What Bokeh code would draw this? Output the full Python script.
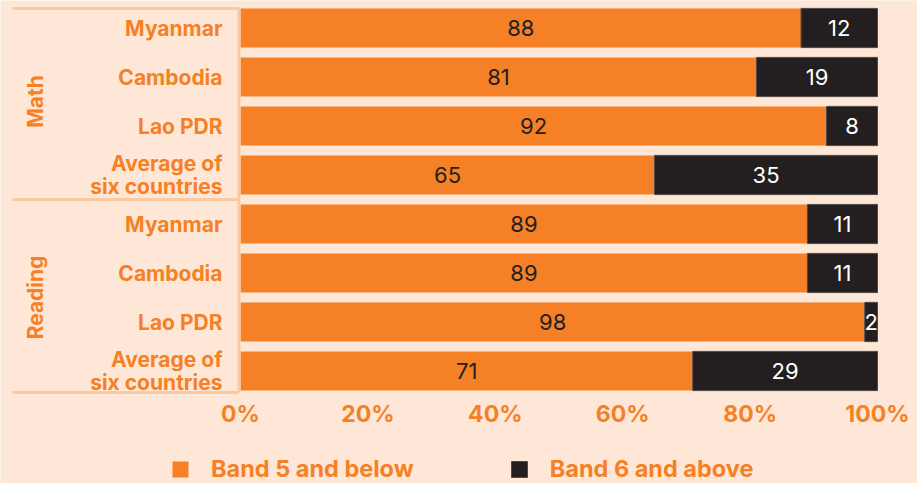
import math
from bokeh.plotting import figure
from bokeh.models import (ColumnDataSource, Range1d, FixedTicker, Legend, LegendItem)
from bokeh.core.properties import value
from bokeh.embed import file_html
from bokeh.resources import INLINE

# ---------------- data ----------------
subjects = ["Math", "Reading"]
countries = ["Myanmar", "Cambodia", "Lao PDR", "Average of\nsix countries"]
math_band5 = [88, 81, 92, 65]
math_band6 = [12, 19, 8, 35]
reading_band5 = [89, 89, 98, 71]
reading_band6 = [11, 11, 2, 29]
series_names = ["Band 5 and below", "Band 6 and above"]
tick_values = [0, 20, 40, 60, 80, 100]
tick_labels = ["0%", "20%", "40%", "60%", "80%", "100%"]

# ---------------- style ----------------
BG = "#FEE7D6"
ORANGE = "#F58025"
DARK = "#231F20"
LINE = "#F9C9A2"
FONT = "Inter"

n_rows = len(countries) * len(subjects)
ys = [n_rows - 1 - i for i in range(n_rows)]
labels = countries * len(subjects)
band5 = math_band5 + reading_band5
band6 = math_band6 + reading_band6
right6 = [a + b for a, b in zip(band5, band6)]

src = ColumnDataSource(dict(
    y=ys, label=labels, b5=band5, b6=band6, r6=right6,
    x5=[v / 2 for v in band5],
    x6=[a + b / 2 for a, b in zip(band5, band6)],
    t5=[str(v) for v in band5], t6=[str(v) for v in band6],
))

W, H = 917, 483
px_per_unit = 6.37
zero_px = 240
x_start = -zero_px / px_per_unit
x_end = 100 + (W - zero_px - 100 * px_per_unit) / px_per_unit
row_px = 49
first_center_px = 27.5
y_top = (n_rows - 1) + first_center_px / row_px
y_bot = y_top - H / row_px


def y_at(px):
    return y_top - px / row_px


p = figure(width=W, height=H, output_backend="svg", toolbar_location=None,
           x_range=Range1d(x_start, x_end), y_range=Range1d(y_bot, y_top),
           y_axis_location=None, min_border_left=0, min_border_right=0,
           min_border_top=0, min_border_bottom=0)
p.background_fill_color = BG
p.border_fill_color = BG
p.outline_line_color = None
p.xgrid.visible = False
p.ygrid.visible = False

r5 = p.hbar(y="y", left=0, right="b5", height=0.8, source=src,
            fill_color=ORANGE, line_color=None)
r6 = p.hbar(y="y", left="b5", right="r6", height=0.8, source=src,
            fill_color=DARK, line_color="#4d4949", line_width=1)

p.text(x="x5", y="y", text="t5", source=src, text_align="center",
       text_baseline="middle", text_color=DARK, text_font=value(FONT),
       text_font_size="22px")
p.text(x="x6", y="y", text="t6", source=src, text_align="center",
       text_baseline="middle", text_color="white", text_font=value(FONT),
       text_font_size="22px")

# category labels
p.text(x=(222 - zero_px) / px_per_unit, y="y", text="label", source=src, text_align="right",
       text_baseline="middle", text_color=ORANGE, text_font=value(FONT),
       text_font_style="bold", text_font_size="21px", text_line_height=0.9)

# group labels
grp_y = [(n_rows - 1) - (len(countries) - 1) / 2 - k * len(countries) for k in range(len(subjects))]
p.text(x=[(35 - zero_px) / px_per_unit] * len(subjects), y=grp_y, text=subjects, angle=math.pi / 2,
       text_align="center", text_baseline="middle", text_color=ORANGE,
       text_font=value(FONT), text_font_style="bold", text_font_size="21px")

# separator lines
x_l = (12 - zero_px) / px_per_unit
x_r = (238.5 - zero_px) / px_per_unit
sep_y = [y_at(8), (n_rows - 1) - len(countries) + 0.5, y_at(392)]
p.segment(x0=[x_l] * 3, y0=sep_y, x1=[x_r] * 3, y1=sep_y, line_color=LINE, line_width=3)
p.segment(x0=[x_r], y0=[y_at(392)], x1=[x_r], y1=[y_at(7)], line_color=LINE, line_width=3)

# x axis (drawn at the bottom of the bars)
ax = p.xaxis[0]
ax.fixed_location = y_at(392)
ax.ticker = FixedTicker(ticks=tick_values)
ax.major_label_overrides = {v: l for v, l in zip(tick_values, tick_labels)}
ax.axis_line_color = None
ax.major_tick_line_color = None
ax.minor_tick_line_color = None
ax.major_label_standoff = 1
ax.major_label_text_color = ORANGE
ax.major_label_text_font = FONT
ax.major_label_text_font_size = "23px"
ax.major_label_text_font_style = "bold"

legend = Legend(items=[LegendItem(label=series_names[0], renderers=[r5]),
                       LegendItem(label=series_names[1], renderers=[r6])],
                orientation="horizontal", location=(170, 0),
                glyph_width=20, glyph_height=20, label_standoff=21, spacing=95,
                padding=0, margin=0, background_fill_alpha=0, border_line_alpha=0,
                label_text_font=FONT, label_text_font_style="bold",
                label_text_font_size="23.5px", label_text_color=ORANGE)
p.add_layout(legend, "center")

open("out.html", "w").write(file_html(p, INLINE))
